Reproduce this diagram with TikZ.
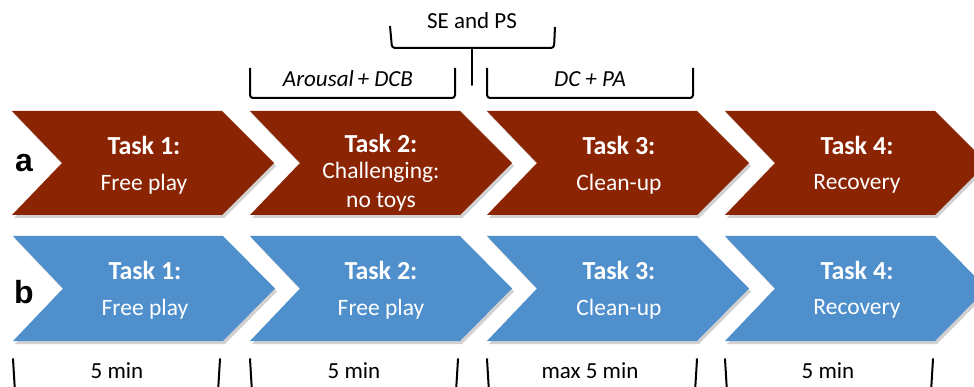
\documentclass[tikz,border=0pt]{standalone}
\usepackage{fontspec}
\setmainfont{Carlito}
\newfontfamily\labfont{Liberation Sans}
\definecolor{taskred}{RGB}{139,36,2}
\definecolor{taskblue}{RGB}{78,143,204}
\tikzset{
  tasktitle/.style={text=white,font=\fontsize{26}{30}\selectfont\bfseries,anchor=center},
  taskbody/.style={text=white,font=\fontsize{23.5}{29}\selectfont,align=center,anchor=center},
  rowlabel/.style={text=black,font=\labfont\fontsize{32}{34}\selectfont\bfseries,anchor=center},
  bracktext/.style={text=black,font=\fontsize{23}{28}\selectfont\itshape,anchor=center},
  plaintext/.style={text=black,font=\fontsize{23}{28}\selectfont,anchor=center},
  brack/.style={draw=black,line width=2pt,rounded corners=3pt},
  tick/.style={draw=black,line width=2pt,line cap=round},
}
\newcommand{\chev}[4]{% left x, top y, height, colour
  \fill[black,opacity=0.18] (#1+2,#2+3) -- ({#1+210+2},#2+3) -- ({#1+262+2},{#2+#3/2+3}) -- ({#1+210+2},{#2+#3+3}) -- (#1+2,{#2+#3+3}) -- ({#1+50+2},{#2+#3/2+3}) -- cycle;
  \fill[#4] (#1,#2) -- ({#1+210},#2) -- ({#1+262},{#2+#3/2}) -- ({#1+210},{#2+#3}) -- (#1,{#2+#3}) -- ({#1+50},{#2+#3/2}) -- cycle;
}
\begin{document}
\begin{tikzpicture}[x=1pt,y=-1pt]
\useasboundingbox (0,0) rectangle (974,387);
\begin{scope}
\clip (0,0) rectangle (974,387);
% red row
\chev{12}{111}{104}{taskred}
\chev{250}{111}{104}{taskred}
\chev{487}{111}{104}{taskred}
\chev{725}{111}{104}{taskred}
% blue row
\chev{13}{236}{105}{taskblue}
\chev{250}{236}{105}{taskblue}
\chev{487}{236}{105}{taskblue}
\chev{725}{236}{105}{taskblue}
% bottom brace ends
\foreach \l/\r in {13/220, 250/458, 487/697, 725/933}{
  \draw[tick] (\l,359) -- (\l+2,392);
  \draw[tick] (\r,359) -- (\r-2,392);
}
\end{scope}

% row labels
\node[rowlabel] (la) at (24,163) {a};
\node[rowlabel] (lb) at (24,292) {b};

% red texts
\node[tasktitle] (a1t) at (144,145) {Task 1:};
\node[taskbody] (a1b) at (144,184) {Free play};
\node[tasktitle] (a2t) at (381,143) {Task 2:};
\node[taskbody] (a2b) at (381,187) {Challenging:\\no toys};
\node[tasktitle] (a3t) at (619,145) {Task 3:};
\node[taskbody] (a3b) at (619,184) {Clean-up};
\node[tasktitle] (a4t) at (857,145) {Task 4:};
\node[taskbody] (a4b) at (857,184) {Recovery};

% blue texts
\node[tasktitle] (b1t) at (145,270) {Task 1:};
\node[taskbody] (b1b) at (145,309) {Free play};
\node[tasktitle] (b2t) at (381,270) {Task 2:};
\node[taskbody] (b2b) at (381,309) {Free play};
\node[tasktitle] (b3t) at (619,270) {Task 3:};
\node[taskbody] (b3b) at (619,309) {Clean-up};
\node[tasktitle] (b4t) at (857,270) {Task 4:};
\node[taskbody] (b4b) at (857,309) {Recovery};

% bottom durations
\node[plaintext] (d1) at (117,371) {5 min};
\node[plaintext] (d2) at (354,371) {5 min};
\node[plaintext] (d3) at (590,371) {max 5 min};
\node[plaintext] (d4) at (828,371) {5 min};

% top brackets
\draw[brack] (250,68) -- (250,98) -- (455,98) -- (455,68);
\node[bracktext] (arousal) at (348,79) {Arousal\,+ DCB};
\draw[brack] (487,68) -- (487,98) -- (693,98) -- (693,68);
\node[bracktext] (dcpa) at (590,79) {DC + PA};
\draw[brack] (390,26) -- (392,48) -- (554,48) -- (555,27);
\draw[tick] (472,48) -- (472,85);
\node[plaintext] (seps) at (472,21) {SE and PS};
\end{tikzpicture}
\end{document}
